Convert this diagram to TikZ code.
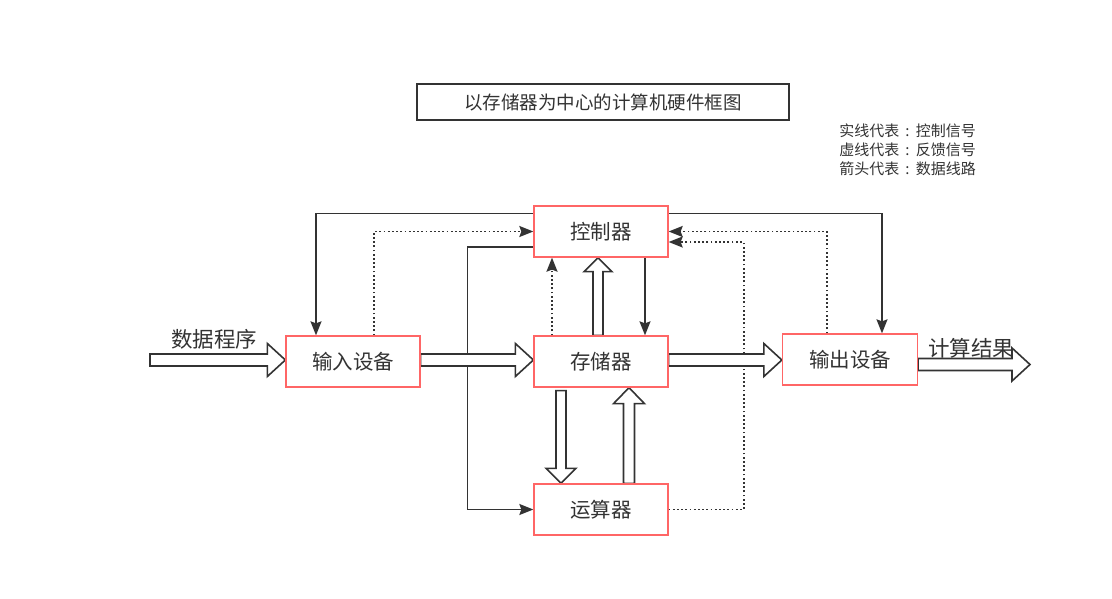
\documentclass[tikz,border=0pt]{standalone}
\usepackage{fontspec}
\setmainfont{Noto Sans CJK SC}
\usetikzlibrary{calc,arrows.meta,backgrounds}
\definecolor{dk}{HTML}{333333}
\definecolor{bred}{HTML}{FF6666}
\newcommand\fatarrow[5]{%
 \path (#1) coordinate (fa) (#2) coordinate (fb);
 \path ($(fb)!#5!(fa)$) coordinate (fh);
 \draw[fat] ($(fa)!#3!90:(fb)$) -- ($(fh)!#3!-90:(fa)$) -- ($(fh)!#4!-90:(fa)$) -- (fb) -- ($(fh)!#4!90:(fa)$) -- ($(fh)!#3!90:(fa)$) -- ($(fa)!#3!-90:(fb)$) -- cycle;}
\newcommand\lcolon{\makebox[1.1em]{:}}
\tikzset{
 box/.style={draw=bred,line width=1.3pt,fill=white,minimum width=134pt,minimum height=51pt,inner sep=0pt,text=dk,font=\fontsize{20.5}{22}\selectfont},
 ctl/.style={draw=dk,line width=1.5pt,-{Stealth[length=14pt,width=11pt,inset=2pt]}},
 fb/.style={draw=dk,line width=1.8pt,dash pattern=on 1.8pt off 2.4pt,-{Stealth[length=14pt,width=11pt,inset=2pt]}},
 fat/.style={draw=dk,fill=white,line width=1.6pt,line join=miter},
 lbl/.style={text=dk,inner sep=0pt,font=\fontsize{21.5}{23}\selectfont},
}
\begin{document}
\begin{tikzpicture}[x=1pt,y=-1pt]
\useasboundingbox (0,0) rectangle (1112,598);
\node[draw=dk,line width=1.6pt,minimum width=372pt,minimum height=36pt,inner sep=0pt,text=dk,font=\fontsize{18.5}{20}\selectfont] (title) at (603,102) {以存储器为中心的计算机硬件框图};
\node[anchor=north east,align=right,inner sep=0pt,text=dk,font=\fontsize{15}{19}\selectfont] (legend) at (976,124) {实线代表\lcolon 控制信号\\虚线代表\lcolon 反馈信号\\箭头代表\lcolon 数据线路};
\node[box] (ctrl) at (601,231.5) {控制器};
\node[box] (in) at (353,361.5) {输入设备};
\node[box] (mem) at (601,361.5) {存储器};
\node[box,minimum width=135pt] (out) at (850,359.5) {输出设备};
\node[box] (alu) at (601,509.5) {运算器};
\node[lbl] (ldata) at (214,339) {数据程序};
\node[lbl] (lres) at (971,348) {计算结果};
\coordinate (src) at (150,360);
\coordinate (res) at (1030,364.5);
\begin{scope}[on background layer]
\fill[white] (0,0) rectangle (1112,598);
% control lines
\draw[ctl] ([yshift=18pt]ctrl.west) -| ([xshift=-37pt]in.north);
\draw[ctl] ([yshift=-15.5pt]ctrl.west) -| ([xshift=-66pt]alu.west) -- (alu.west);
\draw[ctl] ([xshift=44pt]ctrl.south) -- ([xshift=44pt]mem.north);
\draw[ctl] ([yshift=18pt]ctrl.east) -| ([xshift=32pt]out.north);
% feedback lines
\draw[fb] ([xshift=21pt]in.north) |- (ctrl.west);
\draw[fb] ([xshift=-49pt]mem.north) -- ([xshift=-49pt]ctrl.south);
\draw[fb] ([xshift=-23pt]out.north) |- (ctrl.east);
\draw[fb] (alu.east) -- ++(75,0) |- ([yshift=-10.5pt]ctrl.east);
% data arrows
\fatarrow{src}{[yshift=1.5pt]in.west}{6pt}{16.5pt}{18pt}
\fatarrow{[yshift=1.5pt]in.east}{[yshift=1.5pt]mem.west}{6pt}{16.5pt}{18pt}
\fatarrow{[yshift=1.5pt]mem.east}{[yshift=-0.5pt]out.west}{6pt}{16.5pt}{18pt}
\fatarrow{[yshift=-5pt]out.east}{res}{6pt}{16.5pt}{18pt}
\fatarrow{[xshift=-3pt]mem.north}{[xshift=-3pt]ctrl.south}{5pt}{14pt}{14pt}
\fatarrow{[xshift=-40pt,yshift=-3pt]mem.south}{[xshift=-40pt]alu.north}{5pt}{15pt}{15pt}
\fatarrow{[xshift=28pt]alu.north}{[xshift=28pt]mem.south}{5.5pt}{15.5pt}{16pt}
\end{scope}
\end{tikzpicture}
\end{document}
